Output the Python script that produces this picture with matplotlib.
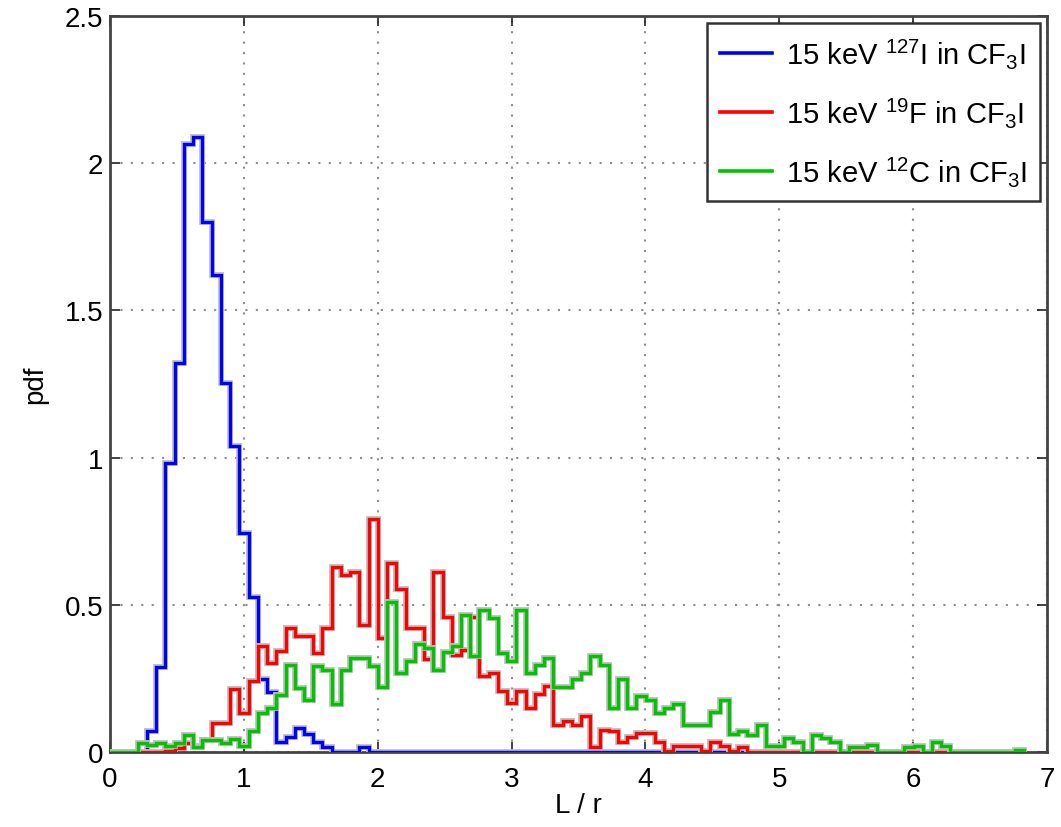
import numpy as np
import matplotlib
matplotlib.use("Agg")
import matplotlib.pyplot as plt
import matplotlib.patheffects as pe
from matplotlib.lines import Line2D

plt.rcParams['font.family'] = ['Liberation Sans', 'DejaVu Sans']
plt.rcParams['mathtext.fontset'] = 'custom'
plt.rcParams['mathtext.rm'] = 'Liberation Sans'
plt.rcParams['mathtext.it'] = 'Liberation Sans:italic'

# histogram bins: width 0.069, edges 0 .. 6.831
bin_width = 0.069
n_bins = 99

# pdf of L/r for each recoil species (one value per bin)
iodine = [0, 0, 0, 0, 0.07, 0.29, 0.98, 1.32, 2.065, 2.09,
          1.80, 1.62, 1.255, 1.04, 0.745, 0.525, 0.247, 0.203, 0.033, 0.05,
          0.083, 0.061, 0.035, 0.016, 0, 0, 0, 0.016, 0, 0] + [0] * 69

fluorine = [0, 0, 0, 0, 0, 0, 0.005, 0.014, 0.03, 0.02,
            0.04, 0.10, 0.10, 0.213, 0.134, 0.241, 0.359, 0.303, 0.342, 0.42,
            0.393, 0.393, 0.337, 0.421, 0.629, 0.601, 0.612, 0.432, 0.793, 0.387,
            0.643, 0.553, 0.421, 0.421, 0.316, 0.612, 0.46, 0.331, 0.346, 0.46,
            0.258, 0.269, 0.207, 0.168, 0.207, 0.151, 0.196, 0.224, 0.091, 0.106,
            0.091, 0.123, 0.016, 0.075, 0.072, 0.035, 0.05, 0.064, 0.064, 0.033,
            0.005, 0.019, 0.019, 0.019, 0.005, 0.033, 0.021, 0.005, 0.016] + [0] * 30

carbon = [0, 0, 0, 0.03, 0.025, 0.032, 0.021, 0.032, 0.057, 0.016,
          0.041, 0.041, 0.032, 0.043, 0.021, 0.072, 0.134, 0.151, 0.192, 0.294,
          0.218, 0.176, 0.292, 0.279, 0.162, 0.279, 0.32, 0.32, 0.293, 0.22,
          0.511, 0.269, 0.309, 0.368, 0.353, 0.28, 0.338, 0.361, 0.466, 0.326,
          0.483, 0.455, 0.337, 0.309, 0.483, 0.269, 0.294, 0.32, 0.222, 0.222,
          0.249, 0.269, 0.326, 0.296, 0.148, 0.249, 0.151, 0.19, 0.177, 0.134,
          0.148, 0.162, 0.092, 0.092, 0.092, 0.136, 0.176, 0.061, 0.072, 0.059,
          0.092, 0.021, 0.021, 0.046, 0.034, 0, 0.057, 0.046, 0.034, 0,
          0.016, 0.016, 0.025, 0, 0, 0, 0.016, 0.02, 0, 0.033,
          0.02, 0, 0, 0, 0, 0, 0, 0, 0.008]

labels = [r'15 keV $^{127}$I in CF$_3$I',
          r'15 keV $^{19}$F in CF$_3$I',
          r'15 keV $^{12}$C in CF$_3$I']
colors = ['#0000ff', '#ff0000', '#00c400']

edges = np.arange(n_bins + 1) * bin_width

fig = plt.figure(figsize=(10.61, 8.28), dpi=100)
ax = fig.add_axes([0.1037, 0.0906, 0.8831, 0.8889])

halo = [pe.Stroke(linewidth=4.2, foreground='#c0c0c0'), pe.Normal()]
for vals, c in zip([iodine, fluorine, carbon], colors):
    ax.stairs(vals, edges, color=c, linewidth=2.4, path_effects=halo, zorder=3)

ax.set_xlim(0, 7)
ax.set_ylim(0, 2.5)
ax.set_xticks(range(8))
ax.set_yticks([0, 0.5, 1, 1.5, 2, 2.5])
ax.set_yticklabels(['0', '0.5', '1', '1.5', '2', '2.5'])
ax.tick_params(direction='in', length=7, width=1.2, top=True, right=True,
               labelsize=20, colors='#222222', labelcolor='black')
ax.tick_params(axis='x', pad=10)
ax.tick_params(axis='y', pad=5)
ax.grid(True, linestyle=(0, (1, 4)), color='#8c8c8c', linewidth=1.5)
ax.set_axisbelow(True)
for s in ax.spines.values():
    s.set_linewidth(2)
    s.set_color('#444444')

ax.set_xlabel('L / r', fontsize=20, labelpad=0)
ax.set_ylabel('pdf', fontsize=20, labelpad=12)

handles = [Line2D([], [], color=c, linewidth=2.6) for c in colors]
leg = ax.legend(handles, labels, loc='upper right', fontsize=21,
                handlelength=1.8, handletextpad=0.45, labelspacing=0.85,
                borderpad=0.45, borderaxespad=0.25, fancybox=False,
                framealpha=1, edgecolor='#333333')
leg.get_frame().set_linewidth(1.8)

fig.savefig('out.png', dpi=100)
